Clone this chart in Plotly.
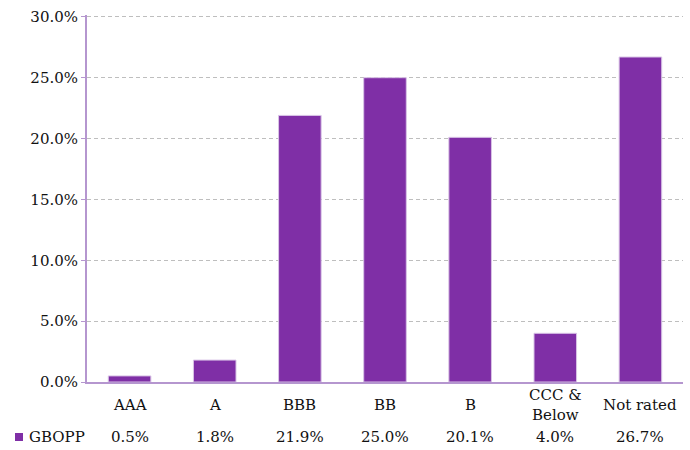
import plotly.graph_objects as go

categories = ["AAA", "A", "BBB", "BB", "B", "CCC & Below", "Not rated"]
category_labels = ["AAA", "A", "BBB", "BB", "B", "CCC &<br>Below", "Not rated"]
gbopp = [0.005, 0.018, 0.219, 0.250, 0.201, 0.040, 0.267]
series_name = "GBOPP"
y_ticks = [0.0, 0.05, 0.10, 0.15, 0.20, 0.25, 0.30]

BAR = "#7F2FA6"
AXIS = "#B596CF"
FONT = "DejaVu Serif"
FS = 15
W, H = 690, 450
L, R, T, B = 87, 7, 15, 68
pw = W - L - R
ph = H - T - B

fig = go.Figure()
fig.add_trace(go.Bar(
    x=categories, y=gbopp, marker=dict(color=BAR, line=dict(color="#D9C4E6", width=1)),
    name=series_name, showlegend=False,
))

annotations = []
for c, lab, v in zip(categories, category_labels, gbopp):
    annotations.append(dict(x=c, xref="x", y=0, yref="paper", yshift=-23,
                            text=lab, showarrow=False, yanchor="middle",
                            font=dict(family=FONT, size=FS, color="#111111")))
    annotations.append(dict(x=c, xref="x", y=0, yref="paper", yshift=-55,
                            text=f"{v*100:.1f}%", showarrow=False, yanchor="middle",
                            font=dict(family=FONT, size=FS, color="#111111")))
annotations.append(dict(x=(27 - L) / pw, xref="paper", y=0, yref="paper", yshift=-55,
                        text=series_name, showarrow=False, xanchor="left", yanchor="middle",
                        font=dict(family=FONT, size=FS, color="#111111")))

fig.add_shape(type="rect", xref="paper", yref="paper",
              x0=(15 - L) / pw, x1=(23 - L) / pw,
              y0=-(441 - (H - B)) / ph, y1=-(433 - (H - B)) / ph,
              fillcolor=BAR, line=dict(width=0))

fig.update_layout(
    width=W, height=H, margin=dict(l=L, r=R, t=T, b=B),
    paper_bgcolor="white", plot_bgcolor="white",
    bargap=0.5,
    annotations=annotations,
    font=dict(family=FONT, size=FS, color="#111111"),
    xaxis=dict(showticklabels=False, showline=True, linecolor=AXIS, linewidth=2,
               ticks="", showgrid=False, zeroline=False),
    yaxis=dict(range=[0, 0.3015], tickvals=y_ticks, tickformat=".1%",
               showline=True, linecolor=AXIS, linewidth=2,
               ticks="outside", ticklen=4, tickcolor=AXIS,
               showgrid=True, gridcolor="#BEBEBE", griddash="4px,3px", gridwidth=1,
               zeroline=False, tickfont=dict(family=FONT, size=FS, color="#111111")),
)

fig.write_html("out.html")
